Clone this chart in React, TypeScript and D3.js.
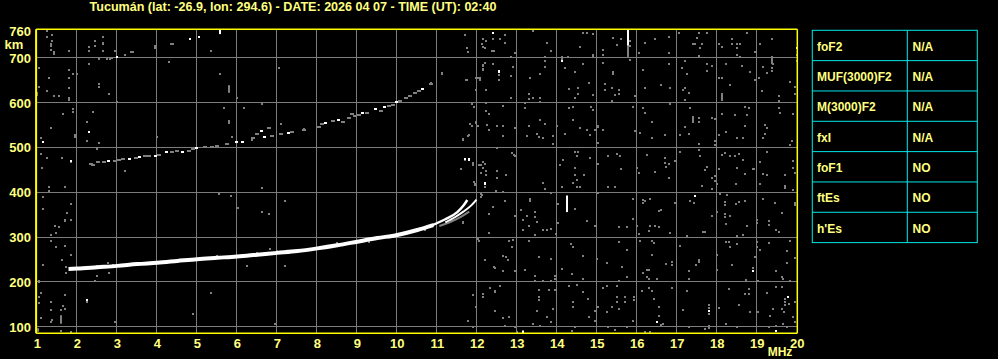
import React from "react";
import * as d3 from "d3";

const TITLE = "Tucumán (lat: -26.9, lon: 294.6) - DATE: 2026 04 07 - TIME (UT): 02:40";
const X_TICKS = [1, 2, 3, 4, 5, 6, 7, 8, 9, 10, 11, 12, 13, 14, 15, 16, 17, 18, 19, 20];
const Y_TICKS = [760, 700, 600, 500, 400, 300, 200, 100];
const X_GRID = [2, 3, 4, 5, 6, 7, 8, 9, 10, 11, 12, 13, 14, 15, 16, 17, 18, 19];
const Y_GRID = [100, 200, 300, 400, 500, 600, 700];
const PARAM_NAMES = ["foF2", "MUF(3000)F2", "M(3000)F2", "fxI", "foF1", "ftEs", "h'Es"];
const PARAM_VALUES = ["N/A", "N/A", "N/A", "N/A", "NO", "NO", "NO"];

// O-mode F trace [MHz, km]
const MAIN_TRACE: [number, number][] = [
  [1.78, 230], [2.0, 231], [2.5, 234], [3.0, 237], [3.5, 241], [4.0, 244], [4.5, 248],
  [5.0, 252], [5.5, 255], [6.0, 258], [6.5, 262], [7.0, 266], [7.5, 270], [8.0, 276],
  [8.5, 283], [9.0, 291], [9.5, 299], [10.0, 306], [10.5, 317], [10.9, 328],
];
const MAIN_TIP: [number, number][] = [
  [10.85, 327], [11.2, 341], [11.5, 357], [11.65, 371], [11.75, 384],
];
const X_TRACE: [number, number][] = [
  [11.2, 334], [11.45, 346], [11.65, 358], [11.85, 372], [11.98, 385],
];
const GRAY_STRAND: [number, number][] = [
  [11.05, 326], [11.35, 336], [11.6, 347], [11.8, 358],
];
// second-hop trace [MHz, km, bright]
const SECOND_HOP: [number, number, number][] = [
  [2.33, 464, 0], [2.38, 463, 0], [2.53, 468, 0], [2.66, 468, 0], [2.8, 470, 1], [2.94, 470, 0],
  [3.03, 473, 0], [3.15, 475, 0], [3.32, 475, 1], [3.47, 478, 0], [3.57, 480, 1], [3.69, 483, 0],
  [3.8, 483, 0], [3.97, 483, 1], [4.03, 485, 0], [4.23, 490, 1], [4.36, 490, 0], [4.48, 493, 0],
  [4.65, 490, 1], [4.78, 494, 0], [4.9, 498, 0], [4.98, 501, 1], [5.19, 503, 0], [5.36, 503, 0],
  [5.48, 505, 0], [5.73, 509, 0], [5.98, 513, 1], [6.15, 513, 1], [6.4, 522, 0], [6.48, 531, 0],
  [6.63, 537, 1], [6.69, 524, 1], [6.78, 545, 0], [6.88, 527, 0], [7.08, 531, 0], [7.28, 533, 1],
  [7.36, 535, 0], [7.67, 541, 0], [8.05, 547, 0], [8.11, 553, 0], [8.22, 556, 1], [8.4, 561, 0],
  [8.55, 562, 1], [8.63, 559, 0], [8.8, 567, 0], [8.86, 576, 0], [8.94, 571, 0], [9.03, 573, 0],
  [9.15, 578, 1], [9.25, 579, 0], [9.47, 586, 1], [9.59, 583, 0], [9.69, 591, 1], [9.8, 593, 0],
  [9.88, 595, 0], [9.98, 603, 1], [10.07, 604, 0], [10.22, 611, 0], [10.33, 615, 0], [10.43, 623, 0],
  [10.55, 628, 0], [10.65, 632, 1], [10.83, 643, 0],
];
const NOISE_GRAY: [number, number][] = [
  // 12-16 MHz high
  [11.69, 753], [12.69, 753], [12.13, 744], [12.23, 739], [12.38, 744], [12.58, 744], [12.11, 731], [12.15, 726],
  [12.19, 722], [12.69, 735], [11.73, 722], [11.77, 713], [12.36, 717], [12.43, 717], [12.94, 712], [12.83, 702],
  [13.38, 762], [13.73, 735], [13.83, 717], [13.69, 704], [13.69, 693], [13.69, 680], [14.13, 704], [14.13, 698],
  [14.27, 704], [14.63, 757], [14.73, 757], [14.88, 754], [14.58, 726], [14.88, 708], [14.88, 704], [15.13, 719],
  [15.13, 708], [15.38, 745], [15.48, 730], [15.58, 744], [12.38, 687], [12.13, 682], [12.13, 674], [12.54, 663],
  [12.54, 652], [12.88, 680], [11.73, 652], [12.03, 655], [12.07, 652], [12.83, 661], [13.33, 656], [13.58, 665],
  [14.19, 678], [14.44, 669], [14.63, 687], [15.15, 690], [15.38, 669], [15.38, 664], [14.78, 645], [14.28, 632],
  [14.53, 634], [14.44, 611], [14.53, 620], [14.88, 619], [15.19, 643], [15.19, 629], [15.36, 634], [15.53, 629],
  [15.44, 619], [15.54, 620], [15.36, 604], [12.23, 630], [11.98, 630], [12.83, 611], [13.3, 620], [13.3, 610],
  [13.4, 611], [13.58, 611], [13.58, 602], [13.19, 600], [13.19, 589], [11.86, 597], [11.92, 592], [12.23, 600],
  [12.63, 594], [12.23, 582], [12.29, 576], [11.98, 556], [12.03, 549], [11.86, 549], [12.48, 549], [12.65, 549],
  [12.94, 545], [12.25, 552], [12.29, 541], [13.58, 563], [13.69, 553], [13.3, 549], [14.0, 549], [13.23, 527],
  [13.48, 531], [13.55, 525], [13.63, 522], [13.88, 527], [13.88, 509], [12.63, 527], [11.65, 518], [11.78, 527],
  [14.19, 531], [14.28, 589], [14.4, 591], [14.84, 591], [14.9, 585], [14.38, 562], [14.58, 544], [14.73, 539],
  [14.83, 530], [14.94, 541], [15.03, 550], [15.03, 546], [15.03, 511], [15.13, 541], [12.48, 500], [11.69, 474],
  [11.88, 463], [12.08, 463], [12.15, 455], [12.19, 464], [12.23, 448], [12.23, 440], [12.48, 448], [12.48, 433],
  [12.73, 439], [12.92, 485], [12.94, 481], [12.86, 489], [14.44, 491], [14.53, 491], [14.48, 481], [14.83, 478],
  [14.44, 455], [14.67, 440], [14.44, 440], [14.48, 429], [14.07, 463], [14.15, 474], [15.03, 464], [15.28, 483],
  [15.48, 486], [15.56, 481], [15.6, 452],
  // 16-20 MHz high
  [15.82, 739], [15.82, 727], [16.19, 734], [16.44, 742], [16.8, 748], [16.8, 712], [16.03, 712], [17.05, 757],
  [17.53, 757], [17.73, 757], [17.48, 745], [17.44, 732], [17.4, 731], [17.61, 731], [17.58, 722], [17.53, 705],
  [18.03, 731], [18.13, 726], [18.38, 742], [18.48, 731], [18.48, 722], [18.58, 731], [18.38, 731], [18.73, 757],
  [18.5, 708], [18.58, 704], [18.94, 713], [19.08, 731], [19.38, 742], [19.38, 702], [19.36, 693], [19.4, 687],
  [19.98, 708], [19.98, 693], [15.82, 697], [16.13, 674], [16.8, 687], [17.19, 693], [17.11, 678], [17.23, 665],
  [17.73, 687], [17.88, 682], [17.73, 672], [18.23, 687], [18.61, 682], [18.82, 669], [19.15, 680], [19.36, 678],
  [19.36, 671], [19.25, 668], [19.05, 656], [18.94, 652], [18.05, 656], [18.13, 656], [18.33, 641], [16.19, 634],
  [16.58, 640], [16.83, 634], [17.15, 630], [17.19, 634], [17.3, 622], [17.19, 608], [15.94, 616], [18.13, 620],
  [18.13, 613], [18.13, 608], [19.13, 626], [19.83, 647], [19.94, 637], [19.94, 620], [19.53, 616], [19.53, 604],
  [15.88, 591], [16.13, 589], [16.19, 578], [16.38, 558], [16.83, 598], [17.33, 589], [17.38, 568], [17.38, 563],
  [17.38, 559], [17.53, 567], [17.53, 559], [17.88, 567], [17.94, 565], [17.19, 546], [17.28, 531], [17.06, 528],
  [18.13, 575], [18.44, 573], [18.69, 592], [18.78, 589], [18.73, 574], [18.69, 549], [18.23, 536], [18.05, 528],
  [18.48, 522], [18.63, 523], [19.19, 552], [19.23, 545], [19.19, 531], [19.15, 522], [19.53, 589], [19.58, 578],
  [19.9, 576], [19.86, 515], [19.83, 506], [16.07, 533], [16.38, 522], [16.69, 528], [17.53, 509], [17.94, 516],
  [17.94, 507], [15.94, 537], [16.25, 485], [16.69, 478], [16.69, 466], [16.73, 457], [16.8, 464], [16.94, 470],
  [17.08, 491], [17.53, 496], [17.58, 481], [17.69, 451], [17.75, 457], [18.11, 485], [18.19, 489], [18.32, 481],
  [18.44, 481], [18.53, 487], [18.63, 474], [18.48, 455], [18.69, 443], [18.88, 454], [18.92, 452], [19.08, 469],
  [19.23, 491], [19.15, 442], [19.25, 440], [19.69, 439], [19.9, 470], [19.9, 455], [19.94, 444], [15.98, 455],
  [16.03, 444], [16.44, 446], [16.78, 433], [17.94, 437], [17.94, 426], [17.86, 434], [18.03, 452],
  // 12-16 MHz low
  [11.94, 420], [11.94, 417], [12.19, 414], [12.47, 405], [12.11, 394], [12.08, 390], [12.65, 401], [13.63, 422],
  [13.69, 409], [13.83, 399], [14.13, 413], [14.38, 422], [14.48, 413], [14.58, 413], [13.33, 387], [13.33, 381],
  [12.69, 381], [12.4, 368], [12.3, 352], [13.08, 362], [13.23, 349], [13.44, 357], [13.44, 347], [14.44, 364],
  [14.73, 338], [14.94, 327], [15.03, 399], [15.28, 413], [15.44, 413], [15.53, 323], [15.73, 323], [11.63, 332],
  [12.94, 349], [13.15, 340], [13.15, 316], [13.3, 327], [13.5, 335], [13.44, 305], [13.63, 316], [13.75, 316],
  [13.83, 320], [13.98, 308], [14.03, 332], [14.03, 375], [12.3, 310], [12.05, 292], [12.8, 292], [12.88, 294],
  [12.86, 279], [12.78, 249], [12.65, 258], [12.73, 256], [12.19, 249], [12.44, 233], [12.65, 225], [12.94, 225],
  [13.3, 292], [13.55, 256], [13.83, 252], [13.94, 215], [13.94, 208], [13.83, 204], [13.44, 215], [13.44, 204],
  [13.19, 227], [13.65, 204], [14.13, 230], [14.33, 286], [14.38, 279], [14.36, 219], [14.65, 260], [14.65, 207],
  [14.98, 253], [15.23, 243], [15.63, 234], [15.73, 273], [15.53, 290], [15.53, 204], [15.73, 212], [12.32, 188],
  [12.44, 182], [12.44, 178], [12.13, 175], [12.13, 167], [11.88, 171], [12.58, 193], [11.98, 146], [12.44, 137],
  [12.65, 121], [12.8, 124], [12.69, 104], [11.78, 115], [11.9, 100], [12.94, 100], [13.55, 184], [13.8, 184],
  [13.94, 184], [13.55, 167], [13.55, 161], [13.48, 137], [13.88, 141], [13.75, 124], [13.83, 111], [13.4, 108],
  [13.58, 104], [14.28, 193], [14.48, 195], [14.63, 178], [14.4, 156], [14.38, 145], [14.8, 124], [14.94, 115],
  [14.94, 137], [14.77, 163], [15.03, 146], [15.13, 188], [15.23, 193], [15.48, 193], [15.48, 167], [15.48, 156],
  [15.69, 167], [15.69, 156], [15.36, 146], [15.23, 134], [15.55, 141], [15.44, 94], [15.28, 100], [15.73, 100],
  [14.44, 100], [14.36, 92], [13.15, 92], [12.98, 90],
  // 16-20 MHz low
  [16.13, 384], [16.13, 377], [16.19, 381], [16.33, 387], [15.88, 387], [16.55, 359], [16.6, 362], [16.94, 377],
  [17.33, 381], [17.43, 377], [17.63, 416], [17.88, 409], [18.0, 419], [18.08, 398], [18.19, 379], [18.19, 372],
  [18.25, 394], [18.47, 375], [18.53, 379], [18.69, 381], [17.88, 349], [18.0, 357], [18.19, 353], [18.19, 346],
  [18.33, 349], [18.47, 419], [19.07, 420], [19.15, 387], [19.44, 377], [19.69, 416], [19.69, 411], [19.9, 407],
  [19.94, 377], [19.94, 372], [19.61, 355], [18.98, 340], [18.98, 332], [19.28, 337], [19.28, 329], [19.48, 316],
  [19.53, 312], [18.73, 327], [18.23, 331], [17.65, 312], [17.69, 312], [18.48, 303], [18.63, 305], [18.3, 290],
  [15.88, 342], [16.0, 327], [16.33, 327], [16.44, 327], [16.28, 314], [16.53, 323], [16.83, 310], [16.03, 308],
  [16.08, 292], [16.38, 292], [16.42, 288], [17.08, 282], [17.23, 303], [17.55, 250], [17.53, 245], [17.47, 238],
  [16.88, 245], [16.88, 238], [16.73, 241], [16.28, 227], [16.23, 227], [16.15, 221], [16.25, 212], [16.28, 207],
  [16.48, 208], [16.38, 262], [17.28, 225], [17.3, 207], [18.0, 227], [18.0, 262], [18.23, 290], [18.33, 280],
  [18.48, 286], [18.98, 290], [18.98, 279], [19.08, 273], [19.28, 288], [19.48, 318], [19.75, 270], [19.82, 292],
  [19.94, 255], [19.73, 243], [19.48, 225], [19.61, 212], [19.65, 208], [19.82, 203], [18.88, 233], [18.94, 256],
  [18.72, 206], [18.36, 240], [19.02, 203], [15.92, 167], [15.92, 161], [16.11, 181], [16.3, 188], [16.38, 182],
  [16.42, 163], [16.55, 146], [16.55, 126], [16.65, 108], [16.88, 188], [17.23, 182], [17.13, 139], [17.8, 149],
  [17.8, 143], [17.8, 130], [17.78, 104], [17.78, 98], [17.69, 96], [18.03, 143], [18.3, 186], [18.53, 149],
  [18.69, 175], [18.78, 175], [18.78, 186], [18.83, 134], [19.02, 134], [19.23, 176], [19.32, 126], [19.4, 141],
  [19.48, 189], [19.63, 189], [19.69, 163], [19.7, 156], [19.7, 149], [19.8, 153], [19.61, 141], [19.67, 134],
  [19.94, 156], [19.9, 122], [19.28, 100], [19.47, 102], [19.65, 108], [19.75, 100], [18.48, 100], [18.23, 108],
  [17.3, 100], [16.19, 89], [16.33, 89], [15.9, 115], [19.94, 111], [16.6, 106],
  // 1-7 MHz high
  [1.23, 762], [1.38, 753], [1.23, 748], [1.33, 732], [1.33, 727], [1.38, 738], [1.33, 719], [1.43, 713], [1.43, 709],
  [1.79, 717], [1.04, 678], [2.29, 725], [2.29, 717], [2.43, 738], [2.43, 727], [2.63, 748], [2.63, 734], [2.63, 731],
  [2.63, 717], [2.93, 717], [2.82, 699], [2.86, 700], [2.73, 699], [2.54, 699], [3.18, 708], [3.35, 713], [3.4, 713],
  [3.93, 727], [3.93, 722], [4.38, 733], [4.33, 731], [4.29, 692], [5.33, 717], [2.29, 687], [1.79, 675], [1.79, 657],
  [1.9, 665], [1.98, 665], [1.3, 655], [1.04, 637], [1.25, 628], [1.43, 615], [1.54, 615], [1.79, 633], [1.79, 612],
  [1.79, 608], [2.54, 643], [2.54, 637], [2.79, 620], [2.98, 603], [1.0, 623], [1.0, 618], [5.58, 665], [5.98, 611],
  [5.68, 589], [6.18, 589], [5.79, 556], [5.79, 560], [1.9, 586], [1.9, 580], [1.65, 576], [2.4, 580], [1.35, 544],
  [2.23, 557], [1.1, 522], [1.93, 524], [1.93, 529], [2.23, 516], [2.54, 511], [4.0, 525], [5.88, 524], [6.38, 521],
  [6.38, 517], [7.03, 678], [6.63, 598], [7.08, 553], [11.11, 664], [11.72, 652], [11.7, 753], [11.75, 722],
  [11.63, 518], [11.78, 526], [11.11, 667], [10.83, 646], [12.13, 685], [12.13, 677], [12.2, 689], [11.98, 657],
  [12.07, 657],
  // 1-12 MHz middle / low
  [1.08, 487], [1.23, 478], [1.63, 478], [1.83, 468], [2.48, 498], [3.19, 449], [1.11, 455], [1.3, 412], [1.3, 404],
  [1.69, 412], [1.13, 390], [1.83, 376], [1.13, 364], [1.73, 354], [1.69, 339], [1.69, 336], [1.83, 340], [1.44, 327],
  [1.55, 323], [1.48, 310], [1.33, 305], [1.33, 292], [1.69, 282], [1.48, 279], [1.83, 262], [1.63, 250], [1.13, 240],
  [1.72, 235], [1.72, 222], [2.48, 215], [2.44, 203], [2.78, 244], [2.8, 222], [1.03, 203], [6.23, 237], [7.19, 237],
  [6.82, 274], [5.53, 397], [5.83, 393], [6.03, 367], [6.63, 411], [6.63, 357], [6.79, 353], [7.19, 381],
  [7.67, 542], [11.63, 519], [11.8, 528], [11.83, 553], [11.98, 557], [11.58, 452], [11.88, 466], [12.05, 462],
  [12.15, 468], [12.1, 445], [11.93, 423], [12.1, 397], [11.63, 335], [12.02, 296], [12.18, 250], [12.43, 235],
  [1.03, 201], [2.44, 203], [1.08, 177], [1.03, 168], [1.03, 155], [1.33, 157], [1.69, 172], [1.65, 147], [1.69, 140],
  [1.58, 138], [1.33, 138], [1.38, 116], [1.33, 112], [1.08, 120], [2.23, 157], [2.94, 112], [1.83, 90], [1.58, 92],
  [4.88, 130], [5.33, 177], [6.94, 108], [2.5, 236], [2.9, 240], [4.5, 247], [5.5, 259], [6.5, 266], [7.0, 270],
  [8.5, 287], [9.3, 290], [10.2, 307], [10.7, 316],
];
const NOISE_WHITE: [number, number][] = [
  [12.38, 756], [14.13, 693], [12.54, 669], [11.8, 474], [4.83, 744], [5.04, 748], [2.98, 704], [2.29, 536],
  [1.13, 513], [19.98, 722], [12.19, 422], [13.15, 89], [17.44, 392], [18.88, 225], [19.77, 168], [16.48, 111],
  [19.47, 91], [17.8, 137], [2.23, 162], [12.55, 672], [11.69, 476], [11.8, 476], [12.18, 419], [1.83, 470],
];
// vertical streaks [MHz, from km, to km, bright]
const STREAKS: [number, number, number, number][] = [
  [15.78, 728, 764, 1], [15.78, 703, 728, 0], [14.23, 357, 394, 1], [5.79, 623, 640, 0], [1.58, 108, 127, 0],
  [5.58, 754, 764, 1], [19.38, 687, 702, 0], [18.13, 606, 620, 0], [17.38, 557, 570, 0], [1.02, 90, 98, 0],
];

const FONT = "'Liberation Sans', Arial, sans-serif";
const TEXT = "#ffff80";
const GRID = "#7c7c7c";
const NOISE = "#808080";

export default function App() {
  const x = d3.scaleLinear().domain([1, 20]).range([37.3, 797.3]);
  const y = d3.scaleLinear().domain([100, 700]).range([327.3, 58.3]);
  const left = x(0.97), right = x(20), top = y(765), bottom = y(87);
  const line = d3.line<[number, number]>().x((d) => x(d[0])).y((d) => y(d[1])).curve(d3.curveMonotoneX);
  const rowH = 30.33, tTop = 30.3, tLeft = 812.3, tMid = 907.3, tRight = 977.3;

  return (
    <svg width={998} height={359} style={{ position: "absolute", left: 0, top: 0, background: "#000" }}>
      <rect width={998} height={359} fill="#000" />
      <text x={293} y={11} textAnchor="middle" fill={TEXT} fontFamily={FONT} fontWeight="bold" fontSize={12}
        textLength={407} lengthAdjust="spacingAndGlyphs">{TITLE}</text>
      <g clipPath="url(#plotclip)">
        <defs>
          <clipPath id="plotclip"><rect x={left} y={top} width={right - left} height={bottom - top} /></clipPath>
        </defs>
        {X_GRID.map((f) => (
          <line key={"vx" + f} x1={Math.round(x(f)) - 0.5} x2={Math.round(x(f)) - 0.5} y1={top} y2={bottom} stroke={GRID} strokeWidth={1} />
        ))}
        {Y_GRID.map((h) => (
          <line key={"hy" + h} y1={Math.round(y(h)) - 0.5} y2={Math.round(y(h)) - 0.5} x1={left} x2={right} stroke={GRID} strokeWidth={1} />
        ))}
        {NOISE_GRAY.map((d, i) => (
          <rect key={"ng" + i} x={Math.round(x(d[0])) - 1} y={Math.round(y(d[1])) - 1} width={2} height={2} fill={NOISE} />
        ))}
        {STREAKS.map((d, i) => (
          <rect key={"st" + i} x={Math.round(x(d[0])) - 1} y={y(d[2])} width={2} height={y(d[1]) - y(d[2])} fill={d[3] ? "#fff" : NOISE} />
        ))}
        {NOISE_WHITE.map((d, i) => (
          <rect key={"nw" + i} x={Math.round(x(d[0])) - 1} y={Math.round(y(d[1])) - 1} width={2} height={2} fill="#fff" />
        ))}
        {SECOND_HOP.map((d, i) => (
          <rect key={"sh" + i} x={Math.round(x(d[0])) - 2} y={Math.round(y(d[1])) - 1} width={d[2] ? 3 : 4} height={2} fill={d[2] ? "#fff" : NOISE} />
        ))}
        <path d={line(GRAY_STRAND) || ""} fill="none" stroke={NOISE} strokeWidth={2} />
        <path d={line(MAIN_TRACE) || ""} fill="none" stroke="#fff" strokeWidth={4} />
        <path d={line(MAIN_TIP) || ""} fill="none" stroke="#fff" strokeWidth={2.5} />
        <path d={line(X_TRACE) || ""} fill="none" stroke="#fff" strokeWidth={2} />
      </g>
      <line x1={left} x2={left} y1={top} y2={bottom} stroke="#ffff00" strokeWidth={2} />
      <line x1={right} x2={right} y1={top} y2={bottom} stroke="#ffff00" strokeWidth={1.5} />
      <line x1={left} x2={right} y1={top} y2={top} stroke="#ffff00" strokeWidth={1.5} />
      <line x1={left} x2={right} y1={bottom} y2={bottom} stroke="#ffff00" strokeWidth={1.5} />
      {Y_TICKS.map((h) => (
        <text key={"yl" + h} x={31} y={y(h) + 4.5} textAnchor="end" fill={TEXT} fontFamily={FONT} fontWeight="bold" fontSize={13}>{h}</text>
      ))}
      <text x={14} y={49} textAnchor="middle" fill={TEXT} fontFamily={FONT} fontWeight="bold" fontSize={13}>km</text>
      {X_TICKS.map((f) => (
        <text key={"xl" + f} x={x(f)} y={348} textAnchor="middle" fill={TEXT} fontFamily={FONT} fontWeight="bold" fontSize={13}>{f}</text>
      ))}
      <text x={780} y={356} textAnchor="middle" fill={TEXT} fontFamily={FONT} fontWeight="bold" fontSize={12}>MHz</text>
      <g>
        <rect x={tLeft} y={tTop} width={tRight - tLeft} height={rowH * PARAM_NAMES.length} fill="none" stroke="#00e8e8" strokeWidth={1} />
        <line x1={tMid} x2={tMid} y1={tTop} y2={tTop + rowH * PARAM_NAMES.length} stroke="#00e8e8" strokeWidth={1} />
        {PARAM_NAMES.map((n, i) => (
          <g key={n}>
            {i > 0 && <line x1={tLeft} x2={tRight} y1={tTop + rowH * i} y2={tTop + rowH * i} stroke="#00e8e8" strokeWidth={1} />}
            <text x={817} y={tTop + rowH * i + 20.5} fill={TEXT} fontFamily={FONT} fontWeight="bold" fontSize={12}>{n}</text>
            <text x={912.5} y={tTop + rowH * i + 20.5} fill={TEXT} fontFamily={FONT} fontWeight="bold" fontSize={12}>{PARAM_VALUES[i]}</text>
          </g>
        ))}
      </g>
    </svg>
  );
}
